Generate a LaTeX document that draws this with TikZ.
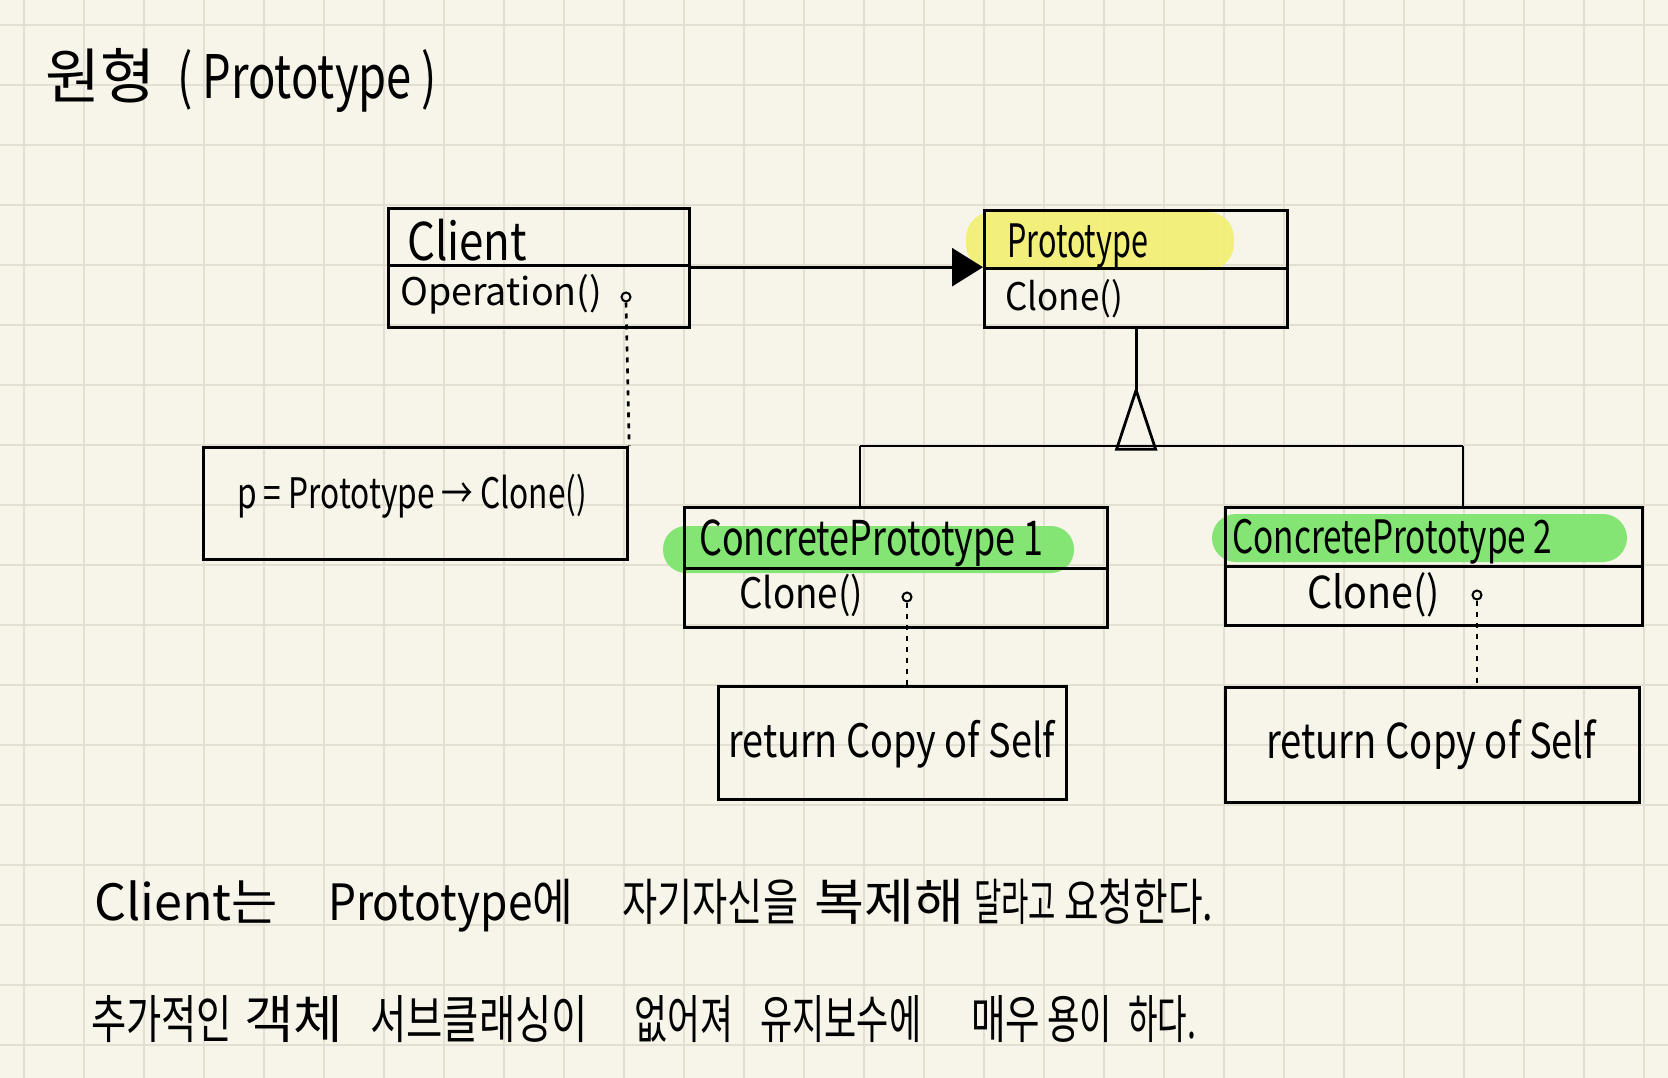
\documentclass[tikz,border=0pt]{standalone}
\usepackage{fontspec}
\usepackage{graphicx}
\setmainfont{Noto Sans CJK KR}
\usetikzlibrary{arrows.meta}
\definecolor{paper}{HTML}{F7F5EA}
\definecolor{gridc}{HTML}{E3DFD2}
\definecolor{hlyellow}{HTML}{F2EF72}
\definecolor{hlgreen}{HTML}{7EE46E}
\newcommand\hwtext[2]{\resizebox{#1pt}{\height}{#2}}
\begin{document}
\begin{tikzpicture}[x=1pt,y=-1pt,
  box/.style={draw, line width=3.2pt, inner sep=0pt, anchor=north west},
  lbl/.style={anchor=base west, inner sep=0pt, text=black},
  wire/.style={line width=2.8pt},
  dots/.style={line width=2.6pt, dash pattern=on 5pt off 6pt},
  knob/.style={circle, draw, line width=2pt, minimum size=9pt, inner sep=0pt},
]
% paper
\fill[paper] (0,0) rectangle (1668,1078);
\useasboundingbox (0,0) rectangle (1668,1078);
\foreach \gx in {24,84,...,1644} \draw[gridc, line width=2pt] (\gx,0) -- (\gx,1078);
\foreach \gy in {25,85,...,1045} \draw[gridc, line width=2pt] (0,\gy) -- (1668,\gy);

% highlighter marks
\fill[hlyellow, fill opacity=0.92, rounded corners=26pt] (966,212) rectangle (1234,270);
\fill[hlgreen, fill opacity=0.95, rounded corners=23pt] (663,526) rectangle (1074,573);
\fill[hlgreen, fill opacity=0.95, rounded corners=24pt] (1212,514) rectangle (1627,562);

% title
\node[lbl, font=\fontsize{60}{60}\selectfont] (title) at (45,99) {\hwtext{110}{원형}\hspace{22pt}\hwtext{260}{( Prototype )}};

% class boxes
\node[box, minimum width=301pt, minimum height=57pt] (clientTop) at (387,207) {};
\node[box, minimum width=301pt, minimum height=62pt] (clientBot) at (387,264) {};
\node[box, minimum width=303pt, minimum height=58pt] (protoTop) at (983,209) {};
\node[box, minimum width=303pt, minimum height=59pt] (protoBot) at (983,267) {};
\node[box, minimum width=423pt, minimum height=61pt] (cpOneTop) at (683,506) {};
\node[box, minimum width=423pt, minimum height=59pt] (cpOneBot) at (683,567) {};
\node[box, minimum width=417pt, minimum height=59pt] (cpTwoTop) at (1224,506) {};
\node[box, minimum width=417pt, minimum height=59pt] (cpTwoBot) at (1224,565) {};
\node[box, minimum width=348pt, minimum height=113pt] (retOne) at (717,685) {};
\node[box, minimum width=414pt, minimum height=115pt] (retTwo) at (1224,686) {};
\node[box, minimum width=424pt, minimum height=112pt] (pbox) at (202,446) {};

% texts in boxes
\node[lbl, font=\fontsize{52}{52}\selectfont] (tClient) at (407,261) {\hwtext{120}{Client}};
\node[lbl, font=\fontsize{38}{38}\selectfont] (tOp) at (400,305) {\hwtext{202}{Operation()}};
\node[lbl, font=\fontsize{46}{46}\selectfont] (tProto) at (1007,258) {\hwtext{141}{Prototype}};
\node[lbl, font=\fontsize{38}{38}\selectfont] (tPClone) at (1005,310) {\hwtext{118}{Clone()}};
\node[lbl, font=\fontsize{48}{48}\selectfont] (tCpOne) at (699,555) {\hwtext{344}{ConcretePrototype 1}};
\node[lbl, font=\fontsize{42}{42}\selectfont] (tCpOneC) at (739,608) {\hwtext{124}{Clone()}};
\node[lbl, font=\fontsize{46}{46}\selectfont] (tCpTwo) at (1232,553) {\hwtext{320}{ConcretePrototype 2}};
\node[lbl, font=\fontsize{44}{44}\selectfont] (tCpTwoC) at (1307,608) {\hwtext{133}{Clone()}};
\node[lbl, font=\fontsize{46}{46}\selectfont] (tRetOne) at (728,757) {\hwtext{327}{return Copy of Self}};
\node[lbl, font=\fontsize{48}{48}\selectfont] (tRetTwo) at (1266,758) {\hwtext{330}{return Copy of Self}};
\node[lbl, font=\fontsize{42}{42}\selectfont] (tCode) at (237,508) {\hwtext{350}{p = Prototype → Clone()}};

% association arrow
\draw[wire, -{Triangle[length=31pt,width=38pt]}] (clientTop.south east) -- (clientTop.south east -| protoTop.west);

% inheritance
\path (protoBot.south) ++(0,61) coordinate (apex);
\coordinate (busL) at (860,446);
\coordinate (busR) at (1463,446);
\draw[wire] (protoBot.south) -- (apex);
\draw[wire, line join=miter] (apex) -- ++(-19.5,59) -- ++(39,0) -- cycle;
\draw[wire] (busL) -- (busR);
\draw[wire] (busL) -- (busL |- cpOneTop.north);
\draw[wire] (busR) -- (busR |- cpTwoTop.north);

% implementation notes
\node[knob] (kClient) at (626,297) {};
\node[knob] (kOne) at (907,597) {};
\node[knob] (kTwo) at (1477,595) {};
\draw[dots] (kClient.south) -- (pbox.north east);
\draw[dots] (kOne.south) -- (kOne.south |- retOne.north);
\draw[dots] (kTwo.south) -- (kTwo.south |- retTwo.north);

% notes at the bottom
\node[lbl, font=\fontsize{50}{50}\selectfont] (noteOne) at (94,920) {\hwtext{184}{Client는}\hspace{50pt}\hwtext{245}{Prototype에}\hspace{49pt}\hwtext{176}{자기자신을}\hspace{16pt}\hwtext{150}{복제해}\hspace{10pt}\hwtext{82}{달라고}\hspace{8pt}\hwtext{149}{요청한다.}};
\node[lbl, font=\fontsize{52}{52}\selectfont] (noteTwo) at (91,1038) {\hwtext{141}{추가적인}\hspace{12pt}\hwtext{99}{객체}\hspace{27pt}\hwtext{218}{서브클래싱이}\hspace{46pt}\hwtext{99}{없어져}\hspace{27pt}\hwtext{161}{유지보수에}\hspace{50pt}\hwtext{69}{매우}\hspace{7pt}\hwtext{65}{용이}\hspace{16pt}\hwtext{68}{하다.}};
\end{tikzpicture}
\end{document}
